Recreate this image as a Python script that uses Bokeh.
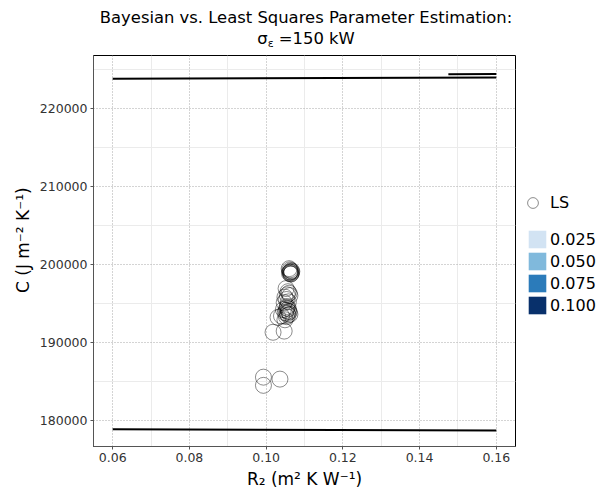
from bokeh.plotting import figure
from bokeh.models import Range1d, FixedTicker, Legend, LegendItem, Div
from bokeh.layouts import column, row
from bokeh.embed import file_html
from bokeh.resources import INLINE

# ---- data ----
ls_r2 = [0.1060, 0.1062, 0.1065, 0.1063, 0.1066, 0.1061, 0.1064, 0.1067, 0.1062, 0.1065,
         0.1052, 0.1057, 0.1060, 0.1055, 0.1049, 0.1062, 0.1053, 0.1058, 0.1047,
         0.1055, 0.1058, 0.1052, 0.1060, 0.1055, 0.1050, 0.1057, 0.1062, 0.1053, 0.1045,
         0.1040, 0.1049, 0.1058, 0.1054, 0.1031,
         0.1018, 0.1047,
         0.0993, 0.1036, 0.0993]
ls_c = [199450, 199300, 199200, 199050, 198950, 198850, 198750, 199100, 199000, 198800,
        196900, 196500, 196300, 196100, 195800, 196000, 195500, 195200, 195100,
        194600, 194300, 194100, 193900, 193700, 193800, 193500, 193600, 193300, 194200,
        193400, 192900, 194000, 194400, 193200,
        191300, 191450,
        185550, 185300, 184500]

upper_r2 = [0.06, 0.16]
upper_c = [223770, 223940]
upper2_r2 = [0.1475, 0.16]
upper2_c = [224360, 224380]
lower_r2 = [0.06, 0.16]
lower_c = [178880, 178720]

level_labels = ["0.025", "0.050", "0.075", "0.100"]
level_values = [0.025, 0.050, 0.075, 0.100]
level_colors = ["#d2e3f3", "#80b9dc", "#2b7bba", "#08306b"]

x_ticks = [0.06, 0.08, 0.10, 0.12, 0.14, 0.16]
x_tick_labels = ["0.06", "0.08", "0.10", "0.12", "0.14", "0.16"]
x_minor = [0.07, 0.09, 0.11, 0.13, 0.15]
y_ticks = [180000, 190000, 200000, 210000, 220000]
y_tick_labels = ["180000", "190000", "200000", "210000", "220000"]
y_minor = [185000, 195000, 205000, 215000, 225000]

title_html = ("<div style='padding-top:7px;padding-left:5px'>"
              "Bayesian vs. Least Squares Parameter Estimation:<br>"
              "\u03c3<sub style='font-size:11px;vertical-align:-3px'>\u03b5</sub> =150 kW"
              "</div>")
x_title = "R\u2082 (m\u00b2 K W\u207b\u00b9)"
y_title = "\u00a0\u00a0\u00a0\u00a0C (J m\u207b\u00b2 K\u207b\u00b9)"

# ---- layout ----
W, H = 607, 491
TITLE_H = 50
FL, FR, FT, FB = 93, 515, 55, 446
MAIN_W = FR + 2
LEG_W = W - MAIN_W
PLOT_H = H - TITLE_H
FONT = "DejaVu Sans"

title = Div(text=title_html, width=W, height=TITLE_H, margin=0,
            styles={"font-family": FONT, "font-size": "16.4px", "color": "black",
                    "text-align": "center", "line-height": "21px"})

p = figure(width=MAIN_W, height=PLOT_H,
           x_range=Range1d(0.055, 0.165), y_range=Range1d(176667, 226756),
           output_backend="svg", toolbar_location=None,
           min_border_left=FL, min_border_right=MAIN_W - FR,
           min_border_top=FT - TITLE_H, min_border_bottom=H - FB)

p.background_fill_color = "white"
p.border_fill_color = "white"
p.outline_line_color = "black"
p.outline_line_width = 1

xt = FixedTicker(ticks=x_ticks, minor_ticks=x_minor)
yt = FixedTicker(ticks=y_ticks, minor_ticks=y_minor)
p.xaxis.ticker = xt
p.yaxis.ticker = yt
p.xaxis.major_label_overrides = dict(zip(x_ticks, x_tick_labels))
p.yaxis.major_label_overrides = dict(zip(y_ticks, y_tick_labels))
p.xaxis.axis_label = x_title
p.yaxis.axis_label = y_title
for ax in (p.xaxis, p.yaxis):
    ax.major_label_text_font = FONT
    ax.major_label_text_font_size = "12.5px"
    ax.major_label_text_color = "#333333"
    ax.major_label_standoff = 2
    ax.major_tick_out = 3
    ax.major_tick_in = 0
    ax.major_tick_line_color = "#555555"
    ax.minor_tick_line_color = None
    ax.axis_line_color = "#555555"
    ax.axis_label_text_font = FONT
    ax.axis_label_text_font_size = "17px"
    ax.axis_label_text_font_style = "normal"
    ax.axis_label_text_color = "black"
    ax.axis_label_standoff = 4

for g in (p.xgrid, p.ygrid):
    g.grid_line_color = "#a8a8a8"
    g.grid_line_dash = "1 2"
    g.grid_line_width = 1
    g.minor_grid_line_color = "#ebebeb"
    g.minor_grid_line_width = 1
p.xgrid.ticker = xt
p.ygrid.ticker = yt

# ---- marks ----
p.line(upper_r2, upper_c, line_color="black", line_width=2)
p.line(upper2_r2, upper2_c, line_color="black", line_width=2)
p.line(lower_r2, lower_c, line_color="black", line_width=2)

p.scatter(ls_r2, ls_c, marker="circle", size=16, fill_color=None,
          line_color="black", line_alpha=0.45, line_width=1)

# ---- legend panel (separate small canvas; its frame aligns with the main frame) ----
lf = figure(width=LEG_W, height=PLOT_H, x_range=Range1d(1, 2), y_range=Range1d(1, 2),
            output_backend="svg", toolbar_location=None, min_border=0,
            x_axis_type=None, y_axis_type=None)
lf.outline_line_color = None
lf.grid.visible = False
lf.background_fill_color = "white"
lf.border_fill_color = "white"

# key glyphs (their data lies outside the legend canvas' visible range)
ls_key = lf.scatter([0], [0], marker="circle", size=16, fill_color=None,
                    line_color="black", line_alpha=0.45, line_width=1)
level_rs = []
for v, c in zip(level_values, level_colors):
    level_rs.append(lf.rect([v], [0], width=1, height=1, fill_color=c, line_color=None))

common = dict(padding=0, margin=0, spacing=0, border_line_alpha=0,
              background_fill_alpha=0, label_text_font=FONT,
              label_text_font_size="16px", label_text_color="black")
leg1 = Legend(items=[LegendItem(label="LS", renderers=[ls_key])],
              location=(2, FB - 216), glyph_width=27, glyph_height=27,
              label_standoff=4, **common)
leg2 = Legend(items=[LegendItem(label=l, renderers=[r]) for l, r in zip(level_labels, level_rs)],
              location=(9, FB - 316), glyph_width=22, glyph_height=22,
              label_standoff=2, **common)
lf.add_layout(leg1)
lf.add_layout(leg2)

layout = column(title, row(p, lf, spacing=0), spacing=0)
open("out.html", "w").write(file_html(layout, INLINE))
